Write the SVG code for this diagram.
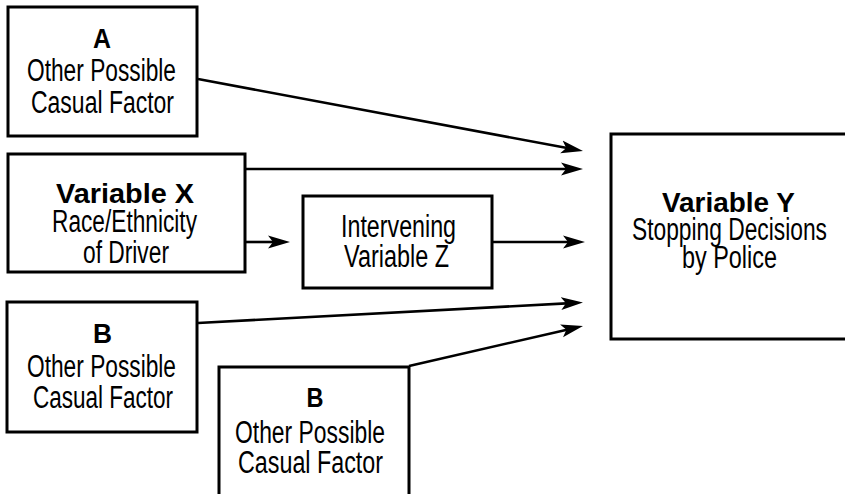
<svg xmlns="http://www.w3.org/2000/svg" width="845" height="494" viewBox="0 0 845 494">
<style>
.box{fill:#fff;stroke:#000;stroke-width:3}
.t{font-family:"Liberation Sans Narrow","Liberation Sans",Arial,sans-serif;font-size:31px;fill:#000;text-anchor:middle}
.b{font-family:"Liberation Sans Narrow","Liberation Sans",Arial,sans-serif;font-size:28.5px;font-weight:bold;fill:#000;text-anchor:middle}
.c{fill:none;stroke:#000;stroke-width:2.6}
</style>
<defs>
<marker id="ah" markerUnits="userSpaceOnUse" viewBox="0 -7 22 14" markerWidth="22" markerHeight="14" refX="10" refY="0" orient="auto">
<path d="M0,-6.5 L22,0 L0,6.5 L5,0 Z" fill="#000"/>
</marker>
</defs>
<rect width="845" height="494" fill="#fff"/>
<g id="connectors">
<line class="c" x1="198" y1="79" x2="571.2" y2="148.8" marker-end="url(#ah)"/>
<line class="c" x1="246" y1="169" x2="571" y2="169" marker-end="url(#ah)"/>
<line class="c" x1="246" y1="242" x2="278" y2="242" marker-end="url(#ah)"/>
<line class="c" x1="493" y1="242" x2="573" y2="242" marker-end="url(#ah)"/>
<line class="c" x1="198" y1="323" x2="571" y2="303.1" marker-end="url(#ah)"/>
<line class="c" x1="409" y1="366" x2="571.3" y2="328.7" marker-end="url(#ah)"/>
</g>
<g id="nodeA">
<rect class="box" x="8" y="7" width="189" height="129"/>
<text class="b" x="102" y="48" textLength="18" lengthAdjust="spacingAndGlyphs">A</text>
<text class="t" x="101.5" y="81" textLength="149" lengthAdjust="spacingAndGlyphs">Other Possible</text>
<text class="t" x="102.5" y="113" textLength="143" lengthAdjust="spacingAndGlyphs">Casual Factor</text>
</g>
<g id="nodeX">
<rect class="box" x="8" y="154" width="237" height="118"/>
<text class="b" x="125" y="203" textLength="138" lengthAdjust="spacingAndGlyphs">Variable X</text>
<text class="t" x="124.5" y="232" textLength="145" lengthAdjust="spacingAndGlyphs">Race/Ethnicity</text>
<text class="t" x="126" y="263" textLength="86" lengthAdjust="spacingAndGlyphs">of Driver</text>
</g>
<g id="nodeZ">
<rect class="box" x="303" y="196" width="189" height="92"/>
<text class="t" x="398.5" y="237" textLength="115" lengthAdjust="spacingAndGlyphs">Intervening</text>
<text class="t" x="396.5" y="267" textLength="105" lengthAdjust="spacingAndGlyphs">Variable Z</text>
</g>
<g id="nodeY">
<rect class="box" x="611" y="134" width="238" height="205"/>
<text class="b" x="728.5" y="212" textLength="133" lengthAdjust="spacingAndGlyphs">Variable Y</text>
<text class="t" x="729.5" y="240" textLength="195" lengthAdjust="spacingAndGlyphs">Stopping Decisions</text>
<text class="t" x="729.5" y="268" textLength="95" lengthAdjust="spacingAndGlyphs">by Police</text>
</g>
<g id="nodeB1">
<rect class="box" x="7" y="302" width="190" height="130"/>
<text class="b" x="102.5" y="343" textLength="19" lengthAdjust="spacingAndGlyphs">B</text>
<text class="t" x="101.5" y="377" textLength="149" lengthAdjust="spacingAndGlyphs">Other Possible</text>
<text class="t" x="103" y="408" textLength="140" lengthAdjust="spacingAndGlyphs">Casual Factor</text>
</g>
<g id="nodeB2">
<rect class="box" x="219" y="367" width="190" height="140"/>
<text class="b" x="315" y="407" textLength="17" lengthAdjust="spacingAndGlyphs">B</text>
<text class="t" x="310" y="443" textLength="150" lengthAdjust="spacingAndGlyphs">Other Possible</text>
<text class="t" x="310.5" y="473" textLength="145" lengthAdjust="spacingAndGlyphs">Casual Factor</text>
</g>
</svg>
